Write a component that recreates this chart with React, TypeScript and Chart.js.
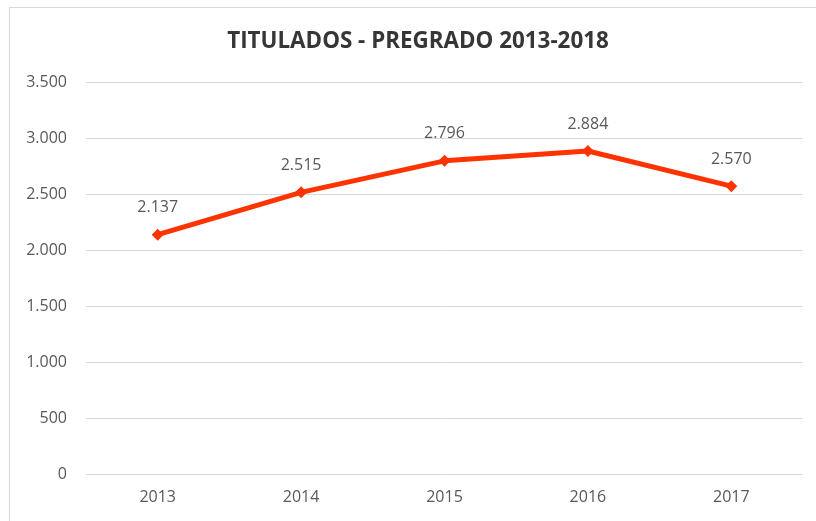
import React, { useEffect, useRef } from "react";
import { Chart, registerables } from "chart.js";

Chart.register(...registerables);

const TITLE = "TITULADOS - PREGRADO 2013-2018";
const YEARS = ["2013", "2014", "2015", "2016", "2017"];
const TITULADOS = [2137, 2515, 2796, 2884, 2570];
const Y_MIN = 0;
const Y_MAX = 3500;
const Y_STEP = 500;

const LINE_COLOR = "#FF3300";
const TEXT_COLOR = "#595959";
const TITLE_COLOR = "#363636";
const GRID_COLOR = "#D9D9D9";
const FONT = "'Open Sans', 'Liberation Sans', sans-serif";

function fmt(n: number): string {
  const s = Math.round(n).toString();
  return s.replace(/\B(?=(\d{3})+(?!\d))/g, ".");
}

const dataLabels = {
  id: "dataLabels",
  afterDatasetsDraw(chart: any) {
    const ctx = chart.ctx;
    const meta = chart.getDatasetMeta(0);
    const ds = chart.data.datasets[0];
    ctx.save();
    ctx.font = `16px ${FONT}`;
    ctx.fillStyle = TEXT_COLOR;
    ctx.textAlign = "center";
    ctx.textBaseline = "middle";
    meta.data.forEach((pt: any, i: number) => {
      ctx.fillText(fmt(ds.data[i] as number), pt.x, pt.y - 27);
    });
    ctx.restore();
  },
};

const chartTitle = {
  id: "chartTitle",
  afterDraw(chart: any) {
    const ctx = chart.ctx;
    ctx.save();
    ctx.font = `bold 22.4px ${FONT}`;
    ctx.fillStyle = TITLE_COLOR;
    ctx.textAlign = "center";
    ctx.textBaseline = "middle";
    ctx.fillText(TITLE, 418, 42);
    ctx.restore();
  },
};

export default function App() {
  const ref = useRef<HTMLCanvasElement | null>(null);
  useEffect(() => {
    if (!ref.current) return;
    const chart = new Chart(ref.current, {
      type: "line",
      data: {
        labels: YEARS,
        datasets: [
          {
            label: "Titulados",
            data: TITULADOS,
            borderColor: LINE_COLOR,
            backgroundColor: LINE_COLOR,
            borderWidth: 5,
            tension: 0,
            pointStyle: "rectRot",
            pointRadius: 6,
            pointBorderWidth: 0,
            pointBackgroundColor: LINE_COLOR,
            borderCapStyle: "round",
            borderJoinStyle: "round",
          },
        ],
      },
      options: {
        responsive: false,
        animation: false,
        layout: { padding: { left: 0, right: 13, top: 82, bottom: 0 } },
        plugins: {
          legend: { display: false },
          tooltip: { enabled: false },
          title: { display: false },
        },
        scales: {
          x: {
            offset: true,
            grid: { display: false, drawTicks: false },
            border: { display: false },
            ticks: { color: TEXT_COLOR, font: { family: FONT, size: 16 }, padding: 14 },
            afterFit(scale: any) {
              scale.height = 47;
            },
          },
          y: {
            min: Y_MIN,
            max: Y_MAX,
            grid: { color: GRID_COLOR, lineWidth: 1, drawTicks: false },
            border: { display: false },
            ticks: {
              stepSize: Y_STEP,
              color: TEXT_COLOR,
              font: { family: FONT, size: 16 },
              padding: 19,
              callback: (v: any) => fmt(Number(v)),
            },
            afterFit(scale: any) {
              scale.width = 86;
            },
          },
        },
      },
      plugins: [dataLabels, chartTitle],
    });
    return () => chart.destroy();
  }, []);

  return (
    <div
      style={{
        position: "fixed",
        left: 0,
        top: 0,
        width: 816,
        height: 521,
        overflow: "hidden",
        background: "#fff",
      }}
    >
      <div
        style={{
          position: "absolute",
          left: 9,
          top: 7,
          width: 900,
          height: 600,
          border: `1px solid ${GRID_COLOR}`,
        }}
      />
      <canvas
        ref={ref}
        width={816}
        height={521}
        style={{ position: "absolute", left: 0, top: 0, width: 816, height: 521 }}
      />
    </div>
  );
}
